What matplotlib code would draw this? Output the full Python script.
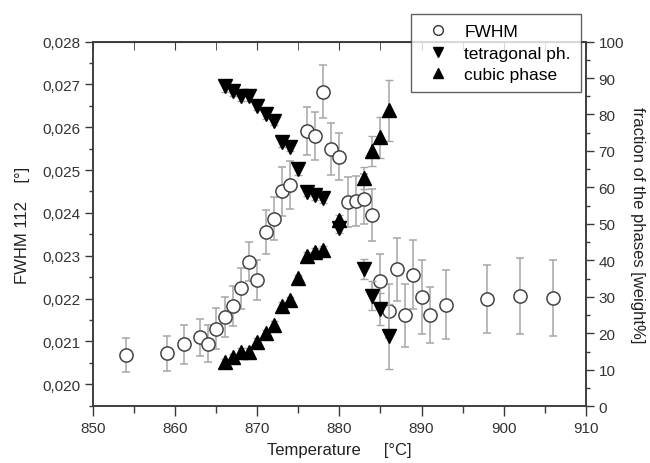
import matplotlib
matplotlib.use('Agg')
import matplotlib.pyplot as plt
import matplotlib.ticker as mticker
from matplotlib.lines import Line2D

plt.rcParams['font.family'] = ['Liberation Sans', 'DejaVu Sans']

DARK = '#3a3a3a'
ERR = '#a6a6a6'

# FWHM of the 112 reflection (left axis)
fwhm_t = [854, 859, 861, 863, 864, 865, 866, 867, 868, 869, 870, 871, 872,
          873, 874, 876, 877, 878, 879, 880, 881, 882, 883, 884, 885, 886,
          887, 888, 889, 890, 891, 893, 898, 902, 906]
fwhm = [0.02068, 0.02072, 0.02093, 0.02110, 0.02095, 0.02130, 0.02157,
        0.02183, 0.02224, 0.02286, 0.02243, 0.02356, 0.02386, 0.02450,
        0.02465, 0.02591, 0.02580, 0.02683, 0.02549, 0.02531, 0.02426,
        0.02428, 0.02433, 0.02395, 0.02241, 0.02171, 0.02268, 0.02161,
        0.02256, 0.02204, 0.02161, 0.02186, 0.02199, 0.02206, 0.02202]
fwhm_err = [0.00039, 0.00041, 0.00045, 0.00043, 0.00044, 0.00047, 0.00047,
            0.00047, 0.00048, 0.00046, 0.00047, 0.00051, 0.00050, 0.00058,
            0.00055, 0.00055, 0.00056, 0.00062, 0.00060, 0.00055, 0.00058,
            0.00058, 0.00058, 0.00060, 0.00062, 0.00062, 0.00074, 0.00074,
            0.00080, 0.00086, 0.00065, 0.00080, 0.00080, 0.00088, 0.00089]

# tetragonal phase fraction (right axis, weight%)
tet_t = [866, 867, 868, 869, 870, 871, 872, 873, 874, 875, 876, 877, 878,
         880, 883, 884, 885, 886]
tet = [87.8, 86.4, 85.0, 85.0, 82.3, 80.0, 78.2, 72.4, 71.2, 65.0, 58.9,
       57.9, 57.0, 49.0, 37.6, 30.3, 26.7, 19.2]
tet_err = [1.5, 1.2, 1.2, 1.2, 1.2, 1.2, 1.2, 1.2, 1.2, 1.5, 1.2, 1.2, 1.2,
           1.5, 2.7, 4.0, 4.5, 9.0]

# cubic phase fraction (right axis, weight%)
cub_t = [866, 867, 868, 869, 870, 871, 872, 873, 874, 875, 876, 877, 878,
         880, 883, 884, 885, 886]
cub = [12.1, 13.5, 15.0, 15.0, 17.8, 20.0, 22.3, 27.6, 29.1, 35.1, 41.3,
       42.4, 42.9, 51.0, 62.7, 70.0, 73.7, 81.1]
cub_err = [1.0, 1.0, 1.0, 1.0, 1.0, 1.0, 1.0, 1.0, 1.0, 1.0, 1.0, 1.0, 1.0,
           1.5, 3.0, 4.0, 5.5, 8.4]


def _style(ax):
    for s in ax.spines.values():
        s.set_color(DARK)
        s.set_linewidth(1.1)
    ax.tick_params(which='both', direction='out', colors=DARK,
                   labelcolor='#333333', labelsize=11, width=1.0)
    ax.tick_params(which='major', length=6, pad=3.5)
    ax.tick_params(which='minor', length=3)


fig = plt.figure(figsize=(6.5, 4.64), dpi=100)
fig.patch.set_facecolor('white')
ax = fig.add_axes([0.1438, 0.1218, 0.757, 0.7866])
ax2 = ax.twinx()

ax.errorbar(fwhm_t, fwhm, yerr=fwhm_err, fmt='o', ms=9.5, mfc='white',
            mec='#444444', mew=1.1, ecolor=ERR, elinewidth=1.1, capsize=3,
            capthick=1.0, zorder=3)
ax2.errorbar(tet_t, tet, yerr=tet_err, fmt='v', ms=9.5, color='black',
             ecolor=ERR, elinewidth=1.1, capsize=3, capthick=1.0, zorder=3)
ax2.errorbar(cub_t, cub, yerr=cub_err, fmt='^', ms=9.5, color='black',
             ecolor=ERR, elinewidth=1.1, capsize=3, capthick=1.0, zorder=3)

ax.set_xlim(850, 910)
ax.set_ylim(0.01948, 0.028)
ax2.set_ylim(0, 100)

ax.xaxis.set_major_locator(mticker.MultipleLocator(10))
ax.xaxis.set_minor_locator(mticker.MultipleLocator(5))
ax.yaxis.set_major_locator(mticker.MultipleLocator(0.001))
ax.yaxis.set_minor_locator(mticker.MultipleLocator(0.0005))
ax.yaxis.set_major_formatter(
    mticker.FuncFormatter(lambda v, _p: f'{v:.3f}'.replace('.', ',')))
ax2.yaxis.set_major_locator(mticker.MultipleLocator(10))
ax2.yaxis.set_minor_locator(mticker.MultipleLocator(5))

_style(ax)
_style(ax2)

# mirrored x ticks on top pointing inwards, bottom ticks outwards
secx = ax.secondary_xaxis('top')
secx.xaxis.set_major_locator(mticker.MultipleLocator(10))
secx.xaxis.set_minor_locator(mticker.MultipleLocator(5))
secx.tick_params(which='both', direction='in', colors=DARK, labeltop=False,
                 length=6)
secx.spines['top'].set_color(DARK)
ax.tick_params(axis='x', which='both', top=False, direction='out')
ax.tick_params(axis='x', which='major', length=7)
ax.tick_params(axis='x', which='minor', length=5)

ax.set_xlabel('Temperature     [°C]', fontsize=12, color='#222222',
              labelpad=5)
ax.set_ylabel('FWHM 112    [°]', fontsize=12, color='#222222', labelpad=9)
ax2.set_ylabel('fraction of the phases [weight%]', fontsize=12,
               color='#222222', rotation=270, labelpad=15)

handles = [
    Line2D([], [], ls='none', marker='o', ms=7, mfc='white', mec='#333333',
           mew=1.0),
    Line2D([], [], ls='none', marker='v', ms=7.5, color='black'),
    Line2D([], [], ls='none', marker='^', ms=7.5, color='black'),
]
leg = fig.legend(handles, ['FWHM', 'tetragonal ph.', 'cubic phase'],
                 loc='upper right', bbox_to_anchor=(0.894, 0.968),
                 fontsize=12.5, frameon=True, fancybox=False,
                 edgecolor=DARK, handlelength=1.9, handletextpad=0.55,
                 borderpad=0.6, labelspacing=0.35, borderaxespad=0)
leg.get_frame().set_linewidth(1.0)
leg.set_zorder(10)

fig.savefig('out.png', dpi=100, facecolor='white')
